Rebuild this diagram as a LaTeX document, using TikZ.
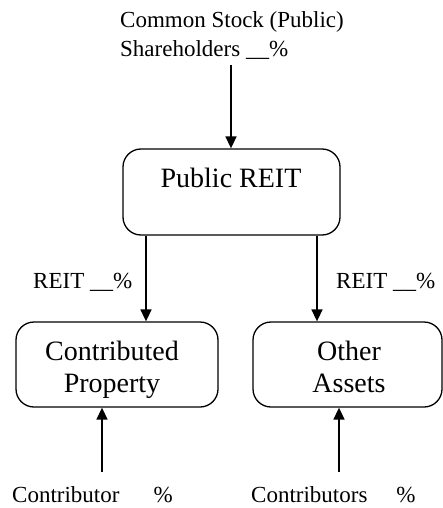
\documentclass[tikz,border=0pt]{standalone}
\usepackage{fontspec}
\setmainfont{Liberation Serif}
\usetikzlibrary{arrows.meta}
\begin{document}
\begin{tikzpicture}[x=1pt,y=-1pt,
  box/.style={draw, line width=1.3pt, rounded corners=18pt, inner sep=0pt},
  lbl/.style={font=\fontsize{23}{28}\selectfont, inner sep=0pt, anchor=base west},
  boxtxt/.style={font=\fontsize{28}{32}\selectfont, inner sep=0pt, anchor=base},
  arr/.style={line width=1.6pt, -{Triangle[length=12pt,width=11pt]}}]
\useasboundingbox (0,0) rectangle (443,508);
% boxes
\node[box, minimum width=217pt, minimum height=86pt] (reit) at (231.5,192) {};
\node[box, minimum width=202pt, minimum height=85pt] (cp) at (117,364.5) {};
\node[box, minimum width=189pt, minimum height=85pt] (oa) at (347.5,364.5) {};
% box texts
\node[boxtxt] (reitt) at (231,187) {Public REIT};
\node[boxtxt] (cpt1) at (112,360) {Contributed};
\node[boxtxt] (cpt2) at (112,392) {Property};
\node[boxtxt] (oat1) at (349,360) {Other};
\node[boxtxt] (oat2) at (349,392) {Assets};
% labels
\node[lbl] (top1) at (120,28) {Common Stock (Public)};
\node[lbl] (top2) at (120,57) {Shareholders \_\_\%};
\node[lbl] (rl) at (33,288) {REIT \_\_\%};
\node[lbl] (rr) at (336,288) {REIT \_\_\%};
\node[lbl] (bl) at (12,502) {Contributor\hspace{34pt}\%};
\node[lbl] (br) at (251,502) {Contributors\hspace{29pt}\%};
% coordinates
\coordinate (s0) at (231,65);
\coordinate (a1) at (146,0);
\coordinate (a2) at (317,0);
\coordinate (b1) at (102,472);
\coordinate (b2) at (339,472);
% arrows
\draw[arr] (s0) -- (reit.north -| s0);
\draw[arr] (reit.south -| a1) -- (cp.north -| a1);
\draw[arr] (reit.south -| a2) -- (oa.north -| a2);
\draw[arr] (b1) -- (cp.south -| b1);
\draw[arr] (b2) -- (oa.south -| b2);
\end{tikzpicture}
\end{document}
